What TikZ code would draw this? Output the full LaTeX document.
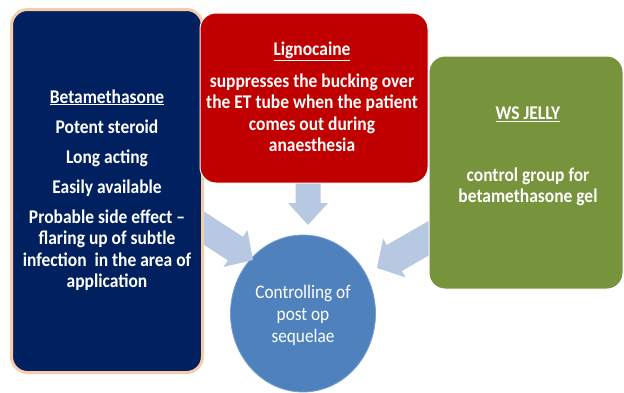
\documentclass[tikz,border=0pt]{standalone}
\usepackage{fontspec}
\setmainfont{Carlito}[FakeStretch=0.9]
\usetikzlibrary{shapes.geometric}
\definecolor{navy}{RGB}{0,32,96}
\definecolor{peach}{RGB}{246,204,170}
\definecolor{darkred}{RGB}{192,0,0}
\definecolor{olive}{RGB}{119,147,60}
\definecolor{steel}{RGB}{79,129,189}
\definecolor{steeledge}{RGB}{120,160,210}
\definecolor{arrowblue}{RGB}{183,200,226}
\begin{document}
\begin{tikzpicture}[x=1pt,y=-1pt,
  box/.style={rounded corners=16pt, inner sep=0pt},
  txt/.style={text=white, align=center, inner sep=0pt,
    font=\fontsize{19.4}{21.5}\selectfont\bfseries},
  ctxt/.style={text=white, align=center, inner sep=0pt,
    font=\fontsize{19.2}{22}\selectfont},
  barrow/.style={fill=arrowblue, draw=none}]
\useasboundingbox (0,0) rectangle (624,392);
\clip (0,0) rectangle (624,392);

% central ellipse
\node[ellipse, fill=steel, draw=steeledge, line width=0.8pt, inner sep=0pt,
  minimum width=145pt, minimum height=157pt] (goal) at (303,313.5) {};
\node[ctxt] (goalT) at (303,315) {Controlling of\\post op\\sequelae};

% block arrows (tips as named coordinates)
\coordinate (tipL) at (253,260);
\coordinate (tipT) at (308,225);
\coordinate (tipR) at (377,268);
\begin{scope}[shift={(tipL)}, rotate=-33]
  \fill[barrow] (0,0) -- (-21,22) -- (-21,14) -- (-80,14) -- (-80,-14) -- (-21,-14) -- (-21,-22) -- cycle;
\end{scope}
\begin{scope}[shift={(tipT)}, rotate=-90]
  \fill[barrow] (0,0) -- (-22,20) -- (-22,12.5) -- (-60,12.5) -- (-60,-12.5) -- (-22,-12.5) -- (-22,-20) -- cycle;
\end{scope}
\begin{scope}[shift={(tipR)}, rotate=210]
  \fill[barrow] (0,0) -- (-20,22.5) -- (-20,15) -- (-80,15) -- (-80,-15) -- (-20,-15) -- (-20,-22.5) -- cycle;
\end{scope}

% boxes
\node[box, fill=navy, draw=peach, line width=3pt,
  minimum width=191pt, minimum height=363pt] (bet) at (107,191) {};
\node[box, fill=darkred, draw=white, line width=1pt,
  minimum width=228pt, minimum height=170pt] (lig) at (314,98) {};
\node[box, fill=olive, draw=white, line width=1pt,
  minimum width=194pt, minimum height=233pt] (ws) at (526,172.5) {};

% texts
\node[txt] (betT) at (107,190) {\underline{Betamethasone}\\[8.5pt]
  Potent steroid\\[8.5pt]
  Long acting\\[8.5pt]
  Easily available\\[8.5pt]
  Probable side effect –\\
  flaring up of subtle\\
  infection\ \ in the area of\\
  application};
\node[txt] (ligT) at (312,97) {\underline{Lignocaine}\\[10pt]
  suppresses the bucking over\\
  the ET tube when the patient\\
  comes out during\\
  anaesthesia};
\node[txt] (wsT) at (528,156.5) {\underline{WS JELLY}\\[40.5pt]
  control group for\\
  betamethasone gel};
\end{tikzpicture}
\end{document}
